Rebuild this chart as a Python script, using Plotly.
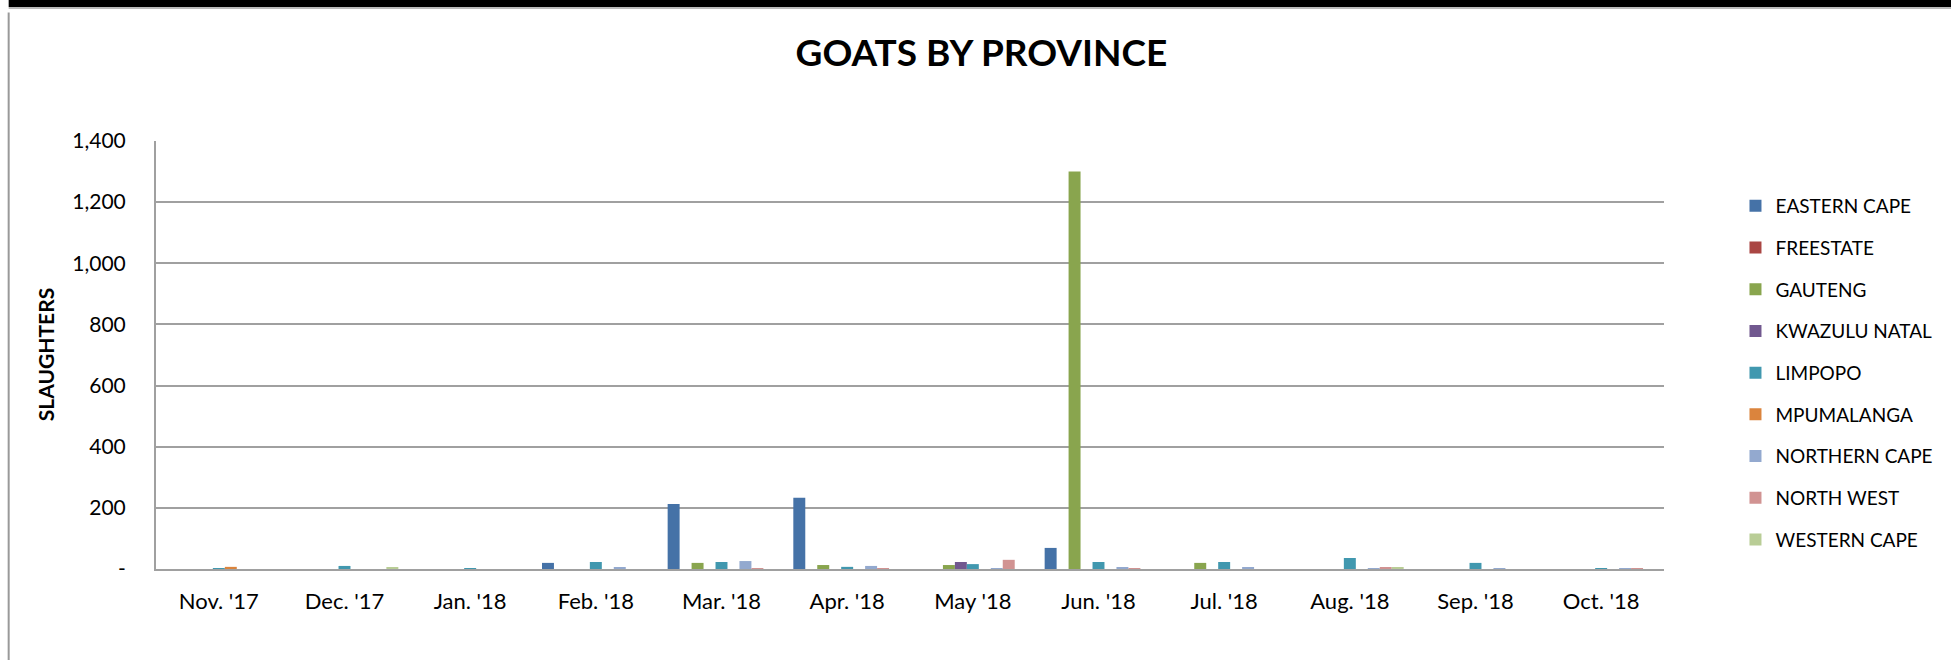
import plotly.graph_objects as go

months = ["Nov. '17", "Dec. '17", "Jan. '18", "Feb. '18", "Mar. '18", "Apr. '18",
          "May '18", "Jun. '18", "Jul. '18", "Aug. '18", "Sep. '18", "Oct. '18"]

eastern_cape = [0, 0, 0, 20, 213, 233, 0, 69, 0, 0, 0, 0]
freestate = [0, 0, 0, 0, 0, 0, 0, 0, 0, 0, 0, 0]
gauteng = [0, 0, 0, 0, 20, 13, 13, 1300, 20, 0, 0, 0]
kwazulu_natal = [0, 0, 0, 0, 0, 0, 23, 0, 0, 0, 0, 0]
limpopo = [1, 10, 1, 23, 23, 7, 16, 23, 23, 36, 20, 3]
mpumalanga = [7, 0, 0, 0, 0, 0, 0, 0, 0, 0, 0, 0]
northern_cape = [0, 0, 0, 6, 26, 10, 3, 6, 6, 2, 3, 3]
north_west = [0, 0, 0, 0, 2, 2, 30, 2, 0, 6, 0, 3]
western_cape = [0, 6, 0, 0, 0, 0, 0, 0, 0, 6, 0, 0]

series_names = ["EASTERN CAPE", "FREESTATE", "GAUTENG", "KWAZULU NATAL", "LIMPOPO",
                "MPUMALANGA", "NORTHERN CAPE", "NORTH WEST", "WESTERN CAPE"]
series_values = [eastern_cape, freestate, gauteng, kwazulu_natal, limpopo,
                 mpumalanga, northern_cape, north_west, western_cape]
colors = ["#4572A7", "#AA4643", "#89A54E", "#71588F", "#4198AF",
          "#DB843D", "#93A9CF", "#D19392", "#B9CD96"]

y_tickvals = [0, 200, 400, 600, 800, 1000, 1200, 1400]
y_ticktext = ["-", "200", "400", "600", "800", "1,000", "1,200", "1,400"]

FONT = "Lato"

fig = go.Figure()
for name, vals, col in zip(series_names, series_values, colors):
    fig.add_trace(go.Bar(x=months, y=vals, name=name, marker_color=col,
                         marker_line_width=0, legendgroup=name))

fig.update_layout(
    width=1951, height=660,
    margin=dict(l=156, r=284, t=141, b=91),
    paper_bgcolor="white", plot_bgcolor="white",
    barmode="group", bargap=0.143, bargroupgap=0,
    font=dict(family=FONT, color="#000000"),
    title=dict(text="<b>GOATS BY PROVINCE</b>", xref="container", x=0.503, xanchor="center",
               y=0.92, yanchor="middle", font=dict(size=37, family=FONT, color="#000")),
    legend=dict(x=1.0474, xanchor="left", y=0.458, yanchor="middle",
                font=dict(size=19, family=FONT, color="#000"),
                traceorder="grouped", tracegroupgap=14, itemwidth=30,
                bgcolor="rgba(0,0,0,0)"),
    xaxis=dict(showgrid=False, showline=True, linecolor="#a0a0a0", linewidth=2,
               ticks="", ticklabelstandoff=12,
               tickfont=dict(size=22, family=FONT, color="#000")),
    yaxis=dict(range=[0, 1400], tickvals=y_tickvals, ticktext=y_ticktext,
               showgrid=True, gridcolor="#a0a0a0", gridwidth=2,
               showline=True, linecolor="#a0a0a0", linewidth=2,
               ticks="", ticklabelstandoff=24, zeroline=False,
               tickfont=dict(size=21, family=FONT, color="#000")),
    annotations=[dict(text="<b>SLAUGHTERS</b>", textangle=-90, xref="paper", yref="paper",
                      x=-0.0735, y=0.5, xanchor="center", yanchor="middle", showarrow=False,
                      font=dict(size=21, family=FONT, color="#000"))],
    shapes=[
        dict(type="line", xref="paper", yref="paper", x0=-0.0977, x1=1.2, y0=1.3224, y1=1.3224,
             line=dict(color="#000", width=8)),
        dict(type="line", xref="paper", yref="paper", x0=-0.0977, x1=1.2, y0=1.3108, y1=1.3108,
             line=dict(color="#bbb", width=2)),
        dict(type="line", xref="paper", yref="paper", x0=-0.0977, x1=-0.0977, y0=1.30, y1=-0.22,
             line=dict(color="#999", width=2)),
    ],
)

fig.write_html("out.html", config={"displayModeBar": False},
               post_script="document.body.style.margin='0';")
